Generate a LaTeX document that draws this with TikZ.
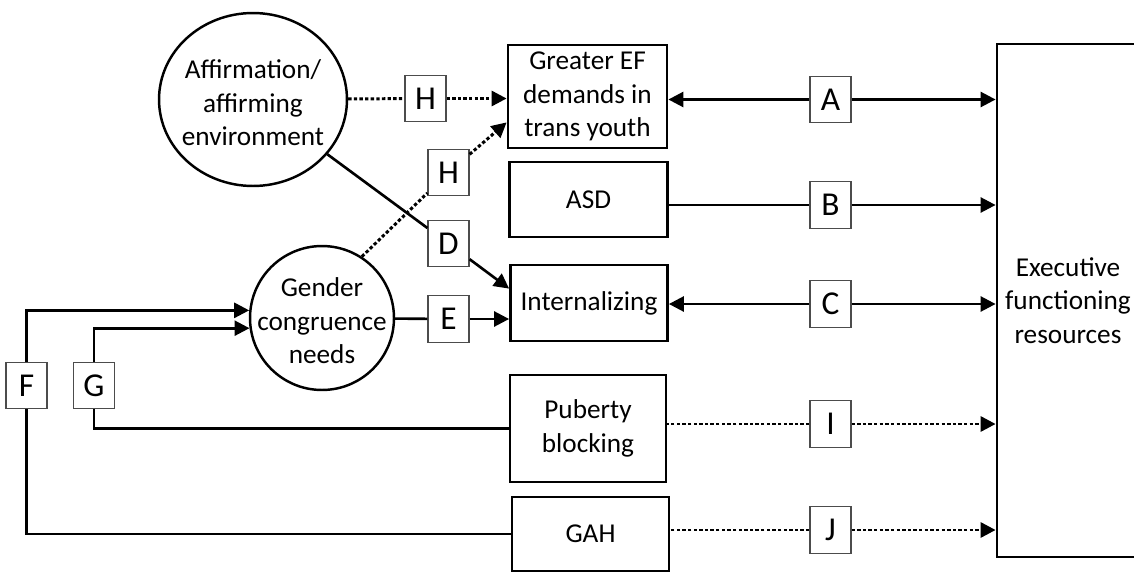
\documentclass[tikz,border=0pt]{standalone}
\usepackage{fontspec}
\setmainfont{Carlito}
\usetikzlibrary{arrows.meta,calc,shapes.geometric}
\begin{document}
\begin{tikzpicture}[x=0.02cm,y=-0.02cm,
  txt/.style={font=\fontsize{15.5}{19}\selectfont, align=center, inner sep=0pt},
  rbox/.style={txt, draw, line width=1.6pt},
  oval/.style={draw, line width=1.4pt, inner sep=0pt},
  lab/.style={font=\fontsize{19}{22}\selectfont, inner sep=0pt, draw=black!70, line width=0.7pt, fill=white, minimum width=0.82cm, minimum height=0.93cm},
  conn/.style={line width=1.5pt},
  arr/.style={conn, -{Triangle[length=0.3cm,width=0.3cm]}},
  dotl/.style={line width=1.7pt, dash pattern=on 1.9pt off 1.3pt},
  dotarr/.style={dotl, -{Triangle[length=0.3cm,width=0.3cm]}}
]
\useasboundingbox (0,0) rectangle (1134,572);

% main shapes
\node[oval, ellipse, minimum width=3.76cm, minimum height=3.46cm] (aff) at (253,99.5) {};
\node[txt] (afft) at (253,103) {Affirmation/\\affirming\\environment};
\node[oval, circle, minimum size=2.88cm] (gen) at (322,318) {};
\node[txt] (gent) at (322,321) {Gender\\congruence\\needs};

\node[rbox, minimum width=3.18cm, minimum height=2.06cm] (ef1) at (587.5,96.5) {Greater EF\\demands in\\trans youth};
\node[rbox, minimum width=3.16cm, minimum height=1.5cm] (asd) at (588.5,199.5) {ASD};
\node[rbox, minimum width=3.14cm, minimum height=1.52cm] (int) at (589,303) {Internalizing};
\node[rbox, minimum width=3.12cm, minimum height=2.14cm] (pub) at (588,428.5) {Puberty\\blocking};
\node[rbox, minimum width=3.14cm, minimum height=1.48cm] (gah) at (590.5,534) {GAH};
\node[rbox, minimum width=2.84cm, minimum height=10.26cm] (efr) at (1068,300.5) {Executive\\functioning\\resources};

% labels
\node[lab] (H1) at (425.5,98.5) {H};
\node[lab] (H2) at (448.5,172.5) {H};
\node[lab] (D) at (448.5,243.5) {D};
\node[lab] (E) at (448.5,319) {E};
\node[lab] (F) at (26.5,385.5) {F};
\node[lab] (G) at (94,385.5) {G};
\node[lab] (A) at (830.5,99.5) {A};
\node[lab] (B) at (830.5,205) {B};
\node[lab] (C) at (830.5,304) {C};
\node[lab] (I) at (830.5,424) {I};
\node[lab] (J) at (830.5,530) {J};

% connectors
\draw[dotl] (aff) -- (H1);
\draw[dotarr] (H1) -- (H1 -| ef1.west);
\draw[dotl] (gen.57) -- (H2);
\draw[dotarr] (H2) -- ($(ef1.south west)+(0,-27)$);
\draw[conn] (aff) -- (D);
\draw[arr] (D) -- ($(int.north west)+(0,25)$);
\draw[conn] (gen) -- (E);
\draw[arr] (E) -- (E -| int.west);
\draw[arr] (F) |- (gen.174);
\draw[arr] (G) |- (gen.188);
\draw[conn] (F) |- (gah);
\draw[conn] (G) |- (pub);
\draw[arr] (A) -- (A -| ef1.east);
\draw[arr] (A) -- (A -| efr.west);
\draw[conn] (B) -- (B -| asd.east);
\draw[arr] (B) -- (B -| efr.west);
\draw[arr] (C) -- (C -| int.east);
\draw[arr] (C) -- (C -| efr.west);
\draw[dotl] (I) -- (I -| pub.east);
\draw[dotarr] (I) -- (I -| efr.west);
\draw[dotl] (J) -- (J -| gah.east);
\draw[dotarr] (J) -- (J -| efr.west);
\end{tikzpicture}
\end{document}
